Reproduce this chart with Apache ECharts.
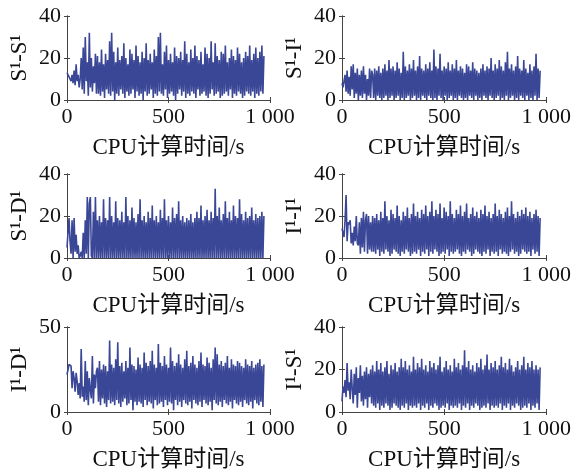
<!DOCTYPE html>
<html>
<head>
<meta charset="utf-8">
<script src="https://cdn.jsdelivr.net/npm/echarts@6/dist/echarts.min.js"></script>
<style>
html, body { margin: 0; padding: 0; background: #fff; }
#chart { width: 574px; height: 475px; }
</style>
</head>
<body>
<div id="chart"></div>
<script>
// sampling interval of the recorded series (s)
var step = 5;

var yNames = ['S¹-S¹', 'S¹-I¹', 'S¹-D¹', 'I¹-I¹', 'I¹-D¹', 'I¹-S¹'];
var yMax = [40, 40, 40, 40, 50, 40];
var yStep = [20, 20, 20, 20, 50, 20];
var xTicks = [0, 500, 1000];
var xTitle = 'CPU计算时间/s';

// values, one per step, 0 .. 970 s
var ssVals = '\
13 12 11 10 9 12 8 14 7 17 \
9 12 6 10 20 5 25 3 30 9 \
18 2 32 6 20 4 16 8 22 3 \
21 3 18 2 24 4 17 1 22 5 \
19 3 28 2 32 4 23 0 18 3 \
25 2 19 5 21 3 27 1 20 4 \
17 2 24 3 22 5 19 1 26 4 \
21 2 18 3 23 0 20 4 27 2 \
19 3 22 5 18 1 24 3 21 2 \
30 4 32 3 17 2 23 5 26 1 \
19 3 22 4 18 2 25 0 21 3 \
20 5 23 2 19 4 28 1 22 3 \
18 2 24 4 20 3 26 1 21 5 \
19 2 23 3 17 4 25 2 22 1 \
20 3 28 5 18 2 27 3 21 4 \
19 1 23 2 22 3 26 4 18 2 \
20 5 24 1 21 3 19 2 25 4 \
22 3 18 1 20 2 23 4 21 3 \
26 2 19 4 22 1 25 3 20 2 \
23 4 26 3 21';

var siVals = '\
8 6 9 12 4 14 3 11 2 16 \
5 17 1 13 3 15 0 12 2 14 \
1 16 3 12 0 10 2 15 1 14 \
12 1 15 0 14 2 16 1 13 0 \
15 1 17 2 14 0 19 1 15 2 \
16 0 14 1 18 2 15 0 13 1 \
23 0 16 1 14 2 17 0 15 1 \
19 2 14 0 16 1 21 0 15 2 \
14 1 17 0 15 2 18 1 14 0 \
24 1 16 0 15 2 22 1 14 0 \
16 2 15 0 18 1 14 2 17 0 \
15 1 19 0 14 2 16 1 15 0 \
13 1 17 0 16 2 14 1 18 0 \
15 2 14 0 13 1 15 0 17 2 \
14 1 16 0 15 2 20 1 14 0 \
17 1 15 2 19 0 16 1 14 0 \
18 2 23 0 15 1 17 2 14 0 \
16 1 21 0 15 2 14 1 19 0 \
15 2 13 0 17 1 14 0 16 2 \
22 0 15 1 14';

var sdVals = '\
5 12 19 8 2 18 0 19 3 11 \
2 6 0 1 3 0 12 0 18 2 \
29 0 26 29 1 0 22 0 29 0 \
18 0 20 0 17 0 28 0 19 0 \
18 0 29 0 20 0 17 0 27 0 \
19 0 18 0 22 0 17 0 29 0 \
20 0 18 0 24 0 19 0 17 0 \
21 0 28 0 18 0 20 0 17 0 \
22 0 19 0 25 0 18 0 20 0 \
17 0 23 0 19 0 28 0 18 0 \
20 0 17 0 24 0 19 0 21 0 \
27 0 18 0 20 0 17 0 19 0 \
18 0 21 0 17 0 19 0 22 0 \
19 0 25 0 18 0 20 0 23 0 \
18 0 22 0 19 0 33 0 20 0 \
24 0 18 0 21 0 27 0 19 0 \
22 0 18 0 25 0 20 0 19 0 \
28 0 21 0 18 0 22 0 19 0 \
20 0 24 0 18 0 21 0 19 0 \
20 0 22 0 20';

var iiVals = '\
14 12 10 18 30 8 17 16 18 7 \
12 6 15 8 20 7 6 17 2 19 \
5 22 3 18 21 2 20 4 17 3 \
20 3 19 2 21 4 18 1 22 3 \
19 2 27 4 20 3 18 1 23 2 \
21 4 19 3 25 2 20 1 18 3 \
22 2 20 4 24 3 19 1 21 2 \
26 3 20 2 22 4 19 1 23 3 \
21 2 25 4 20 1 22 3 27 2 \
20 4 23 3 21 1 26 2 19 3 \
24 2 22 4 20 1 27 3 21 2 \
19 3 23 4 21 2 25 1 20 3 \
22 2 26 4 19 3 21 1 24 2 \
20 4 22 3 19 2 23 1 21 3 \
25 2 20 4 22 1 19 3 21 2 \
26 3 20 1 23 4 21 2 19 3 \
22 2 24 1 20 3 27 4 21 2 \
19 3 22 1 20 2 23 4 21 3 \
24 2 20 3 22 1 19 4 21 2 \
23 3 20 1 19';

var idVals = '\
22 25 28 29 27 14 24 20 12 23 \
18 10 17 8 37 9 15 6 30 7 \
24 4 20 13 8 33 5 22 14 24 \
26 6 30 4 25 8 28 5 27 3 \
24 7 42 5 28 6 26 4 31 7 \
41 5 27 3 29 6 24 8 30 4 \
26 5 38 7 28 1 27 6 25 4 \
32 6 28 5 26 3 35 7 29 4 \
27 6 30 5 36 2 28 7 26 4 \
40 5 29 6 27 3 33 7 28 4 \
26 6 38 5 30 1 27 7 29 4 \
34 6 28 3 26 7 31 5 36 4 \
27 6 29 2 33 7 28 5 26 4 \
30 6 35 3 28 7 27 5 32 4 \
29 6 26 1 31 7 38 5 34 4 \
28 6 30 3 27 7 29 5 33 4 \
26 6 31 2 28 7 27 5 30 4 \
29 6 27 3 26 7 31 5 28 4 \
27 6 30 2 26 7 28 5 29 4 \
31 6 27 3 28';

var isVals = '\
5 12 9 15 7 23 10 14 6 20 \
11 4 18 8 21 2 16 9 22 5 \
17 3 19 6 21 2 18 7 20 4 \
22 3 19 2 24 4 20 1 23 3 \
19 2 21 4 24 3 18 1 22 2 \
20 4 23 3 19 2 21 1 25 3 \
21 2 24 4 20 1 22 3 19 2 \
26 3 20 2 23 4 21 1 25 3 \
20 2 22 4 19 1 24 3 21 2 \
23 4 20 3 22 1 26 2 19 3 \
21 2 24 4 20 1 22 3 19 2 \
25 3 21 2 23 4 20 1 22 3 \
29 2 21 4 24 1 20 3 22 2 \
19 4 23 3 21 1 25 2 20 3 \
22 2 27 4 20 1 23 3 21 2 \
24 3 20 2 22 4 26 1 21 3 \
23 2 20 4 25 1 22 3 19 2 \
21 4 24 3 20 1 22 2 26 3 \
20 2 23 4 21 1 24 3 20 2 \
22 4 20 1 21';

var allVals = [ssVals, siVals, sdVals, iiVals, idVals, isVals];

// layout of the six boxes
var boxes = [
  { left: 67, top: 16, width: 203, height: 84 },
  { left: 342, top: 16, width: 206, height: 84 },
  { left: 67, top: 174, width: 203, height: 84 },
  { left: 342, top: 174, width: 206, height: 84 },
  { left: 67, top: 327, width: 203, height: 85 },
  { left: 342, top: 327, width: 206, height: 85 }
];

var lineColor = '#3a4696';
var axisColor = '#444';
var fontLatin = "'Liberation Serif', 'Times New Roman', 'Noto Sans CJK SC', serif";

var chart = echarts.init(document.getElementById('chart'));

var grids = [], xAxes = [], yAxes = [], series = [];

function parse(str) {
  return str.trim().split(/\s+/).map(Number);
}

for (var i = 0; i < 6; i++) {
  grids.push(Object.assign({ containLabel: false }, boxes[i]));

  var base = {
    gridIndex: i,
    type: 'value',
    min: 0,
    max: xTicks[xTicks.length - 1],
    interval: 500,
    axisLine: { show: true, lineStyle: { color: axisColor, width: 1 } },
    axisTick: { show: true, inside: true, length: 3, lineStyle: { color: axisColor } },
    splitLine: { show: false }
  };
  xAxes.push(Object.assign({}, base, {
    position: 'bottom',
    name: xTitle,
    nameLocation: 'middle',
    nameGap: 36,
    nameTextStyle: { fontFamily: fontLatin, fontSize: 23, color: '#111' },
    axisLabel: {
      margin: 6,
      fontFamily: fontLatin,
      fontSize: 22,
      color: '#111',
      formatter: function (v) { return v === 1000 ? '1 000' : String(v); }
    }
  }));
  xAxes.push(Object.assign({}, base, {
    position: 'top',
    axisLabel: { show: false }
  }));

  var ybase = {
    gridIndex: i,
    type: 'value',
    min: 0,
    max: yMax[i],
    interval: yStep[i],
    axisLine: { show: true, lineStyle: { color: axisColor, width: 1 } },
    axisTick: { show: true, inside: true, length: 3, lineStyle: { color: axisColor } },
    splitLine: { show: false }
  };
  yAxes.push(Object.assign({}, ybase, {
    position: 'left',
    name: yNames[i],
    nameLocation: 'middle',
    nameGap: 36,
    nameTextStyle: { fontFamily: fontLatin, fontSize: 23, color: '#111' },
    axisLabel: { margin: 6, fontFamily: fontLatin, fontSize: 22, color: '#111' }
  }));
  yAxes.push(Object.assign({}, ybase, {
    position: 'right',
    axisLabel: { show: false }
  }));

  var vals = parse(allVals[i]);
  series.push({
    type: 'line',
    xAxisIndex: i * 2,
    yAxisIndex: i * 2,
    data: vals.map(function (v, k) { return [k * step, v]; }),
    showSymbol: false,
    symbol: 'none',
    lineStyle: { color: lineColor, width: 1.6, join: 'bevel' },
    z: 1
  });
}

var option = {
  backgroundColor: '#fff',
  animation: false,
  grid: grids,
  xAxis: xAxes,
  yAxis: yAxes,
  series: series
};

chart.setOption(option);
</script>
</body>
</html>
